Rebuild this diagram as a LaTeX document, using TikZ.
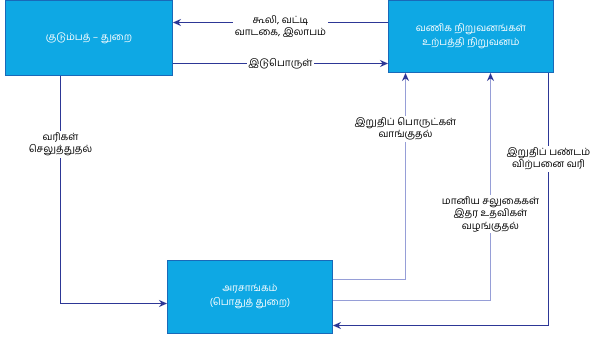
\documentclass[tikz,border=0pt]{standalone}
\usepackage{fontspec}
\newfontfamily\tamil[Script=Tamil]{Hind Madurai}
\usetikzlibrary{arrows.meta,calc}

\definecolor{boxcyan}{RGB}{14,168,228}
\definecolor{boxedge}{RGB}{25,105,185}
\definecolor{flow}{RGB}{45,55,150}
\definecolor{flowlight}{RGB}{150,158,215}

\begin{document}
\begin{tikzpicture}[x=1pt,y=-1pt,
  sector/.style={draw=boxedge, line width=1pt, fill=boxcyan, text=white, align=center,
    anchor=north west, font=\tamil\fontsize{10}{14}\selectfont},
  flowline/.style={draw=flow, line width=1.5pt, -{Stealth[length=8pt,width=7pt]}},
  faintline/.style={draw=flowlight, line width=1.2pt, -{Stealth[length=8pt,width=7pt,color=flow]}},
  tag/.style={fill=white, inner sep=1.5pt, align=center, font=\tamil\fontsize{10}{12.5}\selectfont}]

\useasboundingbox (0,0) rectangle (605,343);

% the three sectors
\node[sector, minimum width=167pt, minimum height=75pt] (home) at (5,0) {குடும்பத் – துறை};
\node[sector, minimum width=165pt, minimum height=72pt] (firm) at (388,0) {வணிக நிறுவனங்கள்\\உற்பத்தி நிறுவனம்};
\node[sector, minimum width=165pt, minimum height=73pt] (govt) at (167,260) {அரசாங்கம்\\(பொதுத் துறை)};

% flows between households and firms
\draw[flowline] ($(firm.west)+(0,-14)$) -- ($(home.east)+(0,-15.5)$)
  node[tag, midway, yshift=-4pt] {கூலி, வட்டி\\வாடகை, இலாபம்};
\draw[flowline] ($(home.east)+(0,25.5)$) -- ($(firm.west)+(0,27)$)
  node[tag, midway] {இடுபொருள்};

% flows to and from the government
\draw[flowline] ($(home.south)+(-28.5,0)$) |- ($(govt.west)+(0,6.5)$)
  node[tag, pos=0.15] {வரிகள்\\செலுத்துதல்};
\draw[faintline] ($(govt.east)+(0,-17.5)$) -| ($(firm.south)+(-65.5,0)$)
  node[tag, pos=0.865] {இறுதிப் பொருட்கள்\\வாங்குதல்};
\draw[faintline] ($(govt.east)+(0,3.5)$) -| ($(firm.south)+(19.5,0)$)
  node[tag, pos=0.69] {மானிய சலுகைகள்\\இதர உதவிகள்\\வழங்குதல்};
\draw[flowline] ($(firm.south)+(77.5,0)$) |- ($(govt.east)+(0,28.5)$)
  node[tag, pos=0.17] {இறுதிப் பண்டம்\\விற்பனை வரி};

\end{tikzpicture}
\end{document}
